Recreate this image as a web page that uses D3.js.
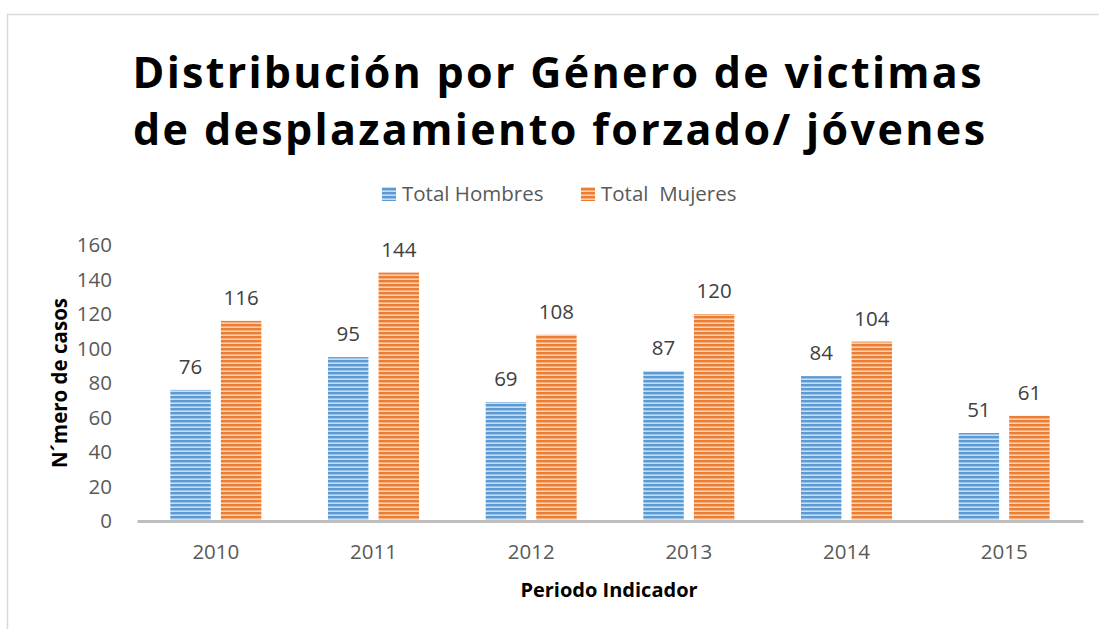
<!DOCTYPE html>
<html>
<head>
<meta charset="utf-8">
<script src="https://cdn.jsdelivr.net/npm/d3@7"></script>
<style>
    body { margin: 0; background: #fff; }
    text { font-family: "Open Sans", "Noto Sans", sans-serif; }
</style>
</head>
<body>
<div id="chart"></div>
<script>
// chart data
let years = ["2010", "2011", "2012", "2013", "2014", "2015"];
let hombres = [76, 95, 69, 87, 84, 51];
let mujeres = [116, 144, 108, 120, 104, 61];
let seriesNames = ["Total Hombres", "Total  Mujeres"];
let yTicks = [0, 20, 40, 60, 80, 100, 120, 140, 160];

let width = 1099,
    height = 629;

let margin = {top: 245, right: 16, bottom: 108, left: 137};

let svg = d3.select("#chart")
    .append("svg")
    .attr("width", width)
    .attr("height", height);

// striped fills like the Excel pattern
let defs = svg.append("defs");
function stripes(id, dark, light) {
    let p = defs.append("pattern")
        .attr("id", id)
        .attr("width", 4)
        .attr("height", 4)
        .attr("patternUnits", "userSpaceOnUse");
    p.append("rect").attr("width", 4).attr("height", 4).attr("fill", light);
    p.append("rect").attr("width", 4).attr("height", 2.4).attr("fill", dark);
}
stripes("stripeBlue", "#5b9bd5", "#c9ddf1");
stripes("stripeOrange", "#ed7d31", "#f9d0b4");
let fills = ["url(#stripeBlue)", "url(#stripeOrange)"];

// chart frame
svg.append("rect")
    .attr("x", 7.5)
    .attr("y", 14.5)
    .attr("width", width)
    .attr("height", height)
    .attr("fill", "none")
    .attr("stroke", "#d9d9d9")
    .attr("stroke-width", 1.5);

let x0 = d3.scaleBand()
    .domain(years)
    .range([margin.left, width - margin.right]);

let x1 = d3.scaleBand()
    .domain([0, 1])
    .range([0, 91])
    .paddingInner(0.2);

let y = d3.scaleLinear()
    .domain([0, 160])
    .range([height - margin.bottom, margin.top]);

// title
let title = svg.append("text")
    .attr("text-anchor", "middle")
    .attr("font-weight", "bold")
    .attr("font-size", 43)
    .attr("fill", "#000");
title.append("tspan").attr("x", 557).attr("y", 88)
    .attr("textLength", 849).attr("lengthAdjust", "spacing")
    .text("Distribución por Género de victimas");
title.append("tspan").attr("x", 559).attr("y", 145)
    .attr("textLength", 852).attr("lengthAdjust", "spacing")
    .text("de desplazamiento forzado/ jóvenes");

// legend
let legendX = [382, 581];
let legend = svg.append("g");
seriesNames.forEach(function (name, i) {
    legend.append("rect")
        .attr("x", legendX[i])
        .attr("y", 187)
        .attr("width", 14)
        .attr("height", 14)
        .attr("fill", fills[i]);
    legend.append("text")
        .attr("x", legendX[i] + 20)
        .attr("y", 201)
        .attr("font-size", 20.5)
        .attr("fill", "#595959")
        .attr("xml:space", "preserve")
        .style("white-space", "pre")
        .text(name);
});

// y axis labels (no line)
let yAxis = svg.append("g")
    .attr("transform", "translate(" + (margin.left - 25) + ",0)")
    .call(d3.axisLeft(y).tickValues(yTicks).tickSize(0).tickPadding(0));
yAxis.select(".domain").remove();
yAxis.selectAll("text")
    .attr("font-family", "Open Sans, sans-serif")
    .attr("font-size", 20.5)
    .attr("fill", "#595959");

// bars
let groups = svg.append("g")
    .selectAll("g")
    .data(years)
    .enter().append("g")
    .attr("transform", function (d) {
        return "translate(" + (x0(d) + x0.bandwidth() / 2 - 45.5) + ",0)";
    });

groups.selectAll("rect")
    .data(function (d, i) { return [hombres[i], mujeres[i]]; })
    .enter().append("rect")
    .attr("x", function (d, j) { return x1(j); })
    .attr("y", function (d) { return y(d); })
    .attr("width", x1.bandwidth())
    .attr("height", function (d) { return y(0) - y(d); })
    .attr("fill", function (d, j) { return fills[j]; });

groups.selectAll(".lbl")
    .data(function (d, i) { return [hombres[i], mujeres[i]]; })
    .enter().append("text")
    .attr("class", "lbl")
    .attr("x", function (d, j) { return x1(j) + x1.bandwidth() / 2; })
    .attr("y", function (d) { return y(d) - 16; })
    .attr("text-anchor", "middle")
    .attr("font-size", 20.5)
    .attr("fill", "#404040")
    .text(function (d) { return d; });

// x axis
let xAxis = svg.append("g")
    .attr("transform", "translate(0," + y(0) + ")")
    .call(d3.axisBottom(x0).tickSize(0).tickPadding(23));
xAxis.select(".domain")
    .attr("stroke", "#bfbfbf")
    .attr("stroke-width", 3);
xAxis.selectAll("text")
    .attr("font-family", "Open Sans, sans-serif")
    .attr("font-size", 20.5)
    .attr("fill", "#595959");

// axis titles
svg.append("text")
    .attr("x", 609)
    .attr("y", 597)
    .attr("text-anchor", "middle")
    .attr("font-weight", "bold")
    .attr("font-size", 20)
    .attr("fill", "#000")
    .text("Periodo Indicador");

svg.append("text")
    .attr("transform", "translate(67,383) rotate(-90)")
    .attr("text-anchor", "middle")
    .attr("font-weight", "bold")
    .attr("font-size", 20.5)
    .attr("fill", "#000")
    .text("N´mero de casos");
</script>
</body>
</html>
